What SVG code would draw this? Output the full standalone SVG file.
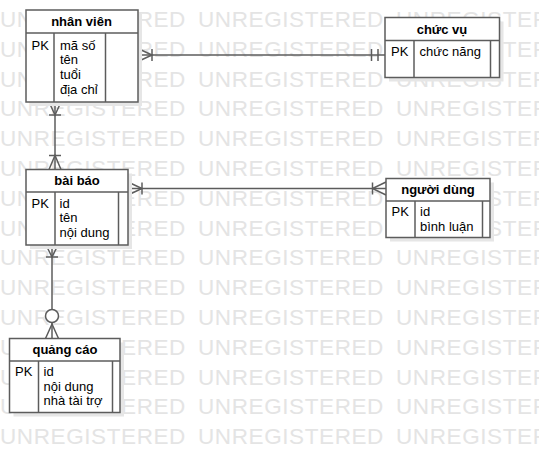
<svg xmlns="http://www.w3.org/2000/svg" width="539" height="453" viewBox="0 0 539 453">
  <defs>
    <style>
      .wm { font-family: "Liberation Sans", Arial, sans-serif; font-size: 22.5px; letter-spacing: 0.6px; fill: #e4e4e4; }
      .shadow { fill: #e6e6e6; stroke: none; }
      .box { fill: #ffffff; stroke: #5c5c5c; stroke-width: 1.5; }
      .div { stroke: #5c5c5c; stroke-width: 1.5; fill: none; }
      .hdr { font-family: "Liberation Sans", Arial, sans-serif; font-size: 13px; font-weight: bold; fill: #000; text-anchor: middle; }
      .txt { font-family: "Liberation Sans", Arial, sans-serif; font-size: 13px; fill: #000; }
      .conn { stroke: #5c5c5c; stroke-width: 1.5; fill: none; }
    </style>
  </defs>
  <rect x="0" y="0" width="539" height="453" fill="#ffffff"/>
  <g id="watermark" class="wm">
    <text y="27"><tspan x="0">UNREGISTERED</tspan><tspan x="198">UNREGISTERED</tspan><tspan x="396">UNREGISTERED</tspan></text>
    <text y="56.8"><tspan x="0">UNREGISTERED</tspan><tspan x="198">UNREGISTERED</tspan><tspan x="396">UNREGISTERED</tspan></text>
    <text y="86.6"><tspan x="0">UNREGISTERED</tspan><tspan x="198">UNREGISTERED</tspan><tspan x="396">UNREGISTERED</tspan></text>
    <text y="116.4"><tspan x="0">UNREGISTERED</tspan><tspan x="198">UNREGISTERED</tspan><tspan x="396">UNREGISTERED</tspan></text>
    <text y="146.2"><tspan x="0">UNREGISTERED</tspan><tspan x="198">UNREGISTERED</tspan><tspan x="396">UNREGISTERED</tspan></text>
    <text y="176"><tspan x="0">UNREGISTERED</tspan><tspan x="198">UNREGISTERED</tspan><tspan x="396">UNREGISTERED</tspan></text>
    <text y="205.8"><tspan x="0">UNREGISTERED</tspan><tspan x="198">UNREGISTERED</tspan><tspan x="396">UNREGISTERED</tspan></text>
    <text y="235.6"><tspan x="0">UNREGISTERED</tspan><tspan x="198">UNREGISTERED</tspan><tspan x="396">UNREGISTERED</tspan></text>
    <text y="265.4"><tspan x="0">UNREGISTERED</tspan><tspan x="198">UNREGISTERED</tspan><tspan x="396">UNREGISTERED</tspan></text>
    <text y="295.2"><tspan x="0">UNREGISTERED</tspan><tspan x="198">UNREGISTERED</tspan><tspan x="396">UNREGISTERED</tspan></text>
    <text y="325"><tspan x="0">UNREGISTERED</tspan><tspan x="198">UNREGISTERED</tspan><tspan x="396">UNREGISTERED</tspan></text>
    <text y="354.8"><tspan x="0">UNREGISTERED</tspan><tspan x="198">UNREGISTERED</tspan><tspan x="396">UNREGISTERED</tspan></text>
    <text y="384.6"><tspan x="0">UNREGISTERED</tspan><tspan x="198">UNREGISTERED</tspan><tspan x="396">UNREGISTERED</tspan></text>
    <text y="414.4"><tspan x="0">UNREGISTERED</tspan><tspan x="198">UNREGISTERED</tspan><tspan x="396">UNREGISTERED</tspan></text>
    <text y="444.2"><tspan x="0">UNREGISTERED</tspan><tspan x="198">UNREGISTERED</tspan><tspan x="396">UNREGISTERED</tspan></text>
  </g>

  <g id="connectors">
    <!-- nhân viên - chức vụ -->
    <line class="conn" x1="138" y1="55" x2="385" y2="55"/>
    <polyline class="conn" points="138,48.5 152,55 138,61.5"/>
    <line class="conn" x1="152" y1="49" x2="152" y2="61"/>
    <line class="conn" x1="371.5" y1="49" x2="371.5" y2="61"/>
    <line class="conn" x1="378" y1="49" x2="378" y2="61"/>
    <!-- nhân viên - bài báo -->
    <line class="conn" x1="55" y1="102" x2="55" y2="169.5"/>
    <polyline class="conn" points="49,102 55,115 61,102"/>
    <line class="conn" x1="49" y1="115" x2="61" y2="115"/>
    <polyline class="conn" points="49,169.5 55,155.5 61,169.5"/>
    <line class="conn" x1="49" y1="155.5" x2="61" y2="155.5"/>
    <!-- bài báo - người dùng -->
    <line class="conn" x1="128" y1="188.5" x2="386" y2="188.5"/>
    <polyline class="conn" points="128,182 142,188.5 128,195"/>
    <line class="conn" x1="142" y1="182.5" x2="142" y2="194.5"/>
    <polyline class="conn" points="386,182 372.5,188.5 386,195"/>
    <line class="conn" x1="372.5" y1="182.5" x2="372.5" y2="194.5"/>
    <!-- bài báo - quảng cáo -->
    <line class="conn" x1="52" y1="245" x2="52" y2="338.5"/>
    <polyline class="conn" points="46,245 52,257 58,245"/>
    <line class="conn" x1="46" y1="257" x2="58" y2="257"/>
    <circle cx="52" cy="316" r="6.5" fill="#ffffff" stroke="#5c5c5c" stroke-width="1.5"/>
    <polyline class="conn" points="45.5,338.5 52,324 58.5,338.5"/>
  </g>

  <g id="nhan-vien">
    <rect class="shadow" x="30" y="14" width="112" height="92"/>
    <rect class="box" x="26" y="10" width="112" height="92"/>
    <line class="div" x1="26" y1="33" x2="138" y2="33"/>
    <line class="div" x1="54" y1="33" x2="54" y2="102"/>
    <line class="div" x1="105.5" y1="33" x2="105.5" y2="102"/>
    <text class="hdr" x="81.5" y="26">nhân viên</text>
    <text class="txt" x="31.5" y="49.5">PK</text>
    <text class="txt" x="60" y="49.5">mã số</text>
    <text class="txt" x="60" y="64.2">tên</text>
    <text class="txt" x="60" y="78.9">tuổi</text>
    <text class="txt" x="60" y="93.6">địa chỉ</text>
  </g>

  <g id="chuc-vu">
    <rect class="shadow" x="389" y="21.5" width="114.5" height="60"/>
    <rect class="box" x="385" y="17.5" width="114.5" height="60"/>
    <line class="div" x1="385" y1="40.5" x2="499.5" y2="40.5"/>
    <line class="div" x1="414" y1="40.5" x2="414" y2="77.5"/>
    <line class="div" x1="490.5" y1="40.5" x2="490.5" y2="77.5"/>
    <text class="hdr" x="442" y="33.5">chức vụ</text>
    <text class="txt" x="391" y="55.8">PK</text>
    <text class="txt" x="419.5" y="55.8">chức năng</text>
  </g>

  <g id="bai-bao">
    <rect class="shadow" x="30" y="173.5" width="102" height="75.5"/>
    <rect class="box" x="26" y="169.5" width="102" height="75.5"/>
    <line class="div" x1="26" y1="192" x2="128" y2="192"/>
    <line class="div" x1="55" y1="192" x2="55" y2="245"/>
    <line class="div" x1="118.5" y1="192" x2="118.5" y2="245"/>
    <text class="hdr" x="77" y="185">bài báo</text>
    <text class="txt" x="31.5" y="207.7">PK</text>
    <text class="txt" x="59.5" y="207.7">id</text>
    <text class="txt" x="59.5" y="222.4">tên</text>
    <text class="txt" x="59.5" y="237.1">nội dung</text>
  </g>

  <g id="nguoi-dung">
    <rect class="shadow" x="390" y="182.5" width="104" height="59"/>
    <rect class="box" x="386" y="178.5" width="104" height="59"/>
    <line class="div" x1="386" y1="201" x2="490" y2="201"/>
    <line class="div" x1="415" y1="201" x2="415" y2="237.5"/>
    <line class="div" x1="482.5" y1="201" x2="482.5" y2="237.5"/>
    <text class="hdr" x="438" y="194">người dùng</text>
    <text class="txt" x="391.5" y="216">PK</text>
    <text class="txt" x="420" y="216">id</text>
    <text class="txt" x="420" y="230.7">bình luận</text>
  </g>

  <g id="quang-cao">
    <rect class="shadow" x="13.5" y="342.5" width="110.5" height="74"/>
    <rect class="box" x="9.5" y="338.5" width="110.5" height="74"/>
    <line class="div" x1="9.5" y1="361" x2="120" y2="361"/>
    <line class="div" x1="38.5" y1="361" x2="38.5" y2="412.5"/>
    <line class="div" x1="112.5" y1="361" x2="112.5" y2="412.5"/>
    <text class="hdr" x="65" y="354">quảng cáo</text>
    <text class="txt" x="15" y="376">PK</text>
    <text class="txt" x="43.5" y="376">id</text>
    <text class="txt" x="43.5" y="390.7">nội dung</text>
    <text class="txt" x="43.5" y="405.4">nhà tài trợ</text>
  </g>
</svg>
